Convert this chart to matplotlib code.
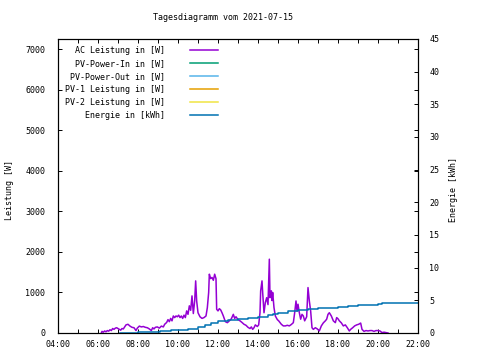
import matplotlib
matplotlib.use("Agg")
import matplotlib.pyplot as plt
import numpy as np

plt.rcParams['font.family'] = ['DejaVu Sans Mono']
plt.rcParams['font.size'] = 6

# AC Leistung [W]
ac_times = ["06:10", "06:12", "06:16", "06:20", "06:24", "06:28", "06:32", "06:36", "06:40", "06:44",
            "06:48", "06:52", "06:56", "07:00", "07:04", "07:08", "07:12", "07:16", "07:20", "07:24",
            "07:30", "07:36", "07:42", "07:48", "07:54", "07:58", "08:04", "08:10", "08:16", "08:22",
            "08:28", "08:34", "08:40", "08:44", "08:48", "08:52", "08:58", "09:04", "09:10", "09:16",
            "09:20", "09:26", "09:30", "09:34", "09:38", "09:42", "09:46", "09:50", "09:54", "09:58",
            "10:02", "10:06", "10:10", "10:14", "10:18", "10:22", "10:26", "10:30", "10:34", "10:38",
            "10:42", "10:46", "10:50", "10:53", "10:56", "11:00", "11:06", "11:12", "11:18", "11:24",
            "11:28", "11:32", "11:34", "11:38", "11:42", "11:46", "11:50", "11:54", "11:56", "12:00",
            "12:04", "12:08", "12:12", "12:16", "12:22", "12:28", "12:34", "12:40", "12:46", "12:50",
            "12:54", "13:00", "13:06", "13:12", "13:18", "13:24", "13:30", "13:36", "13:40", "13:44",
            "13:48", "13:52", "13:58", "14:02", "14:06", "14:08", "14:12", "14:14", "14:18", "14:22",
            "14:26", "14:30", "14:34", "14:36", "14:40", "14:42", "14:44", "14:48", "14:52", "14:58",
            "15:02", "15:10", "15:16", "15:22", "15:28", "15:34", "15:40", "15:46", "15:50", "15:54",
            "15:57", "16:00", "16:04", "16:08", "16:12", "16:16", "16:20", "16:26", "16:30", "16:34",
            "16:38", "16:42", "16:46", "16:52", "16:58", "17:04", "17:10", "17:16", "17:22", "17:26",
            "17:30", "17:34", "17:40", "17:46", "17:52", "17:56", "18:00", "18:04", "18:10", "18:16",
            "18:22", "18:28", "18:34", "18:38", "18:44", "18:50", "18:56", "19:02", "19:08", "19:12",
            "19:18", "19:24", "19:30", "19:36", "19:42", "19:48", "19:54", "20:00", "20:06", "20:12",
            "20:18", "20:24", "20:30"]
ac_power = [0, 40, 20, 50, 30, 60, 45, 80, 60, 110,
            90, 120, 130, 110, 90, 70, 110, 100, 150, 200,
            215, 170, 140, 130, 60, 120, 170, 150, 160, 140,
            130, 100, 60, 130, 100, 140, 150, 120, 170, 150,
            215, 260, 330, 280, 360, 300, 420, 380, 420, 400,
            440, 380, 420, 360, 440, 380, 545, 460, 670, 560,
            915, 480, 790, 1285, 790, 500, 400, 360, 380, 420,
            625, 1000, 1450, 1340, 1370, 1300, 1450, 1340, 585, 545,
            600, 570, 500, 420, 280, 255, 300, 350, 460, 360,
            400, 330, 300, 260, 215, 190, 140, 110, 150, 90,
            130, 200, 160, 200, 500, 1040, 1285, 1000, 500, 750,
            870, 700, 1820, 870, 1040, 800, 1000, 625, 420, 330,
            300, 215, 175, 175, 190, 175, 210, 255, 500, 790,
            540, 710, 500, 340, 460, 420, 300, 400, 1120, 790,
            540, 130, 90, 130, 100, 50, 175, 250, 300, 340,
            460, 500, 420, 300, 255, 380, 350, 300, 250, 175,
            200, 130, 50, 90, 130, 175, 200, 215, 245, 90,
            40, 60, 50, 60, 60, 40, 60, 60, 50, 10,
            20, 10, 0]

# Energie [kWh]
en_times = ["07:06", "08:00", "09:06", "09:40", "10:00", "10:30", "11:00", "11:20", "11:40", "12:00",
            "12:30", "13:00", "13:30", "14:00", "14:30", "14:45", "15:00", "15:30", "16:00", "16:30",
            "17:00", "18:00", "18:30", "19:00", "20:00", "20:12", "22:00"]
energy = [0, 0.2, 0.3, 0.45, 0.5, 0.65, 0.9, 1.2, 1.5, 1.8,
          2.0, 2.1, 2.3, 2.4, 2.75, 2.9, 3.1, 3.35, 3.45, 3.75,
          3.9, 4.05, 4.2, 4.35, 4.45, 4.55, 4.6]

# PV series carry no data in this day
pv_in = []
pv_out = []
pv1 = []
pv2 = []

hour_ticks = list(range(4, 23))
hour_labels = ["%02d:00" % h if h % 2 == 0 else "" for h in hour_ticks]


def to_hours(ts):
    return [int(t[:2]) + int(t[3:]) / 60 for t in ts]


fig = plt.figure(figsize=(4.8, 3.6), dpi=100)
ax = fig.add_axes([58 / 480, 27 / 360, 360 / 480, 294 / 360])
ax2 = ax.twinx()

l1, = ax.plot(to_hours(ac_times), ac_power, color="#9400d3", lw=1.1, label="AC Leistung in [W]")
l2, = ax.plot([], pv_in, color="#009e73", lw=1.1, label="PV-Power-In in [W]")
l3, = ax.plot([], pv_out, color="#56b4e9", lw=1.1, label="PV-Power-Out in [W]")
l4, = ax.plot([], pv1, color="#e69f00", lw=1.1, label="PV-1 Leistung in [W]")
l5, = ax.plot([], pv2, color="#f0e442", lw=1.1, label="PV-2 Leistung in [W]")
l6, = ax2.plot(to_hours(en_times), energy, color="#0072b2", lw=1.1, drawstyle="steps-post",
               label="Energie in [kWh]")

ax.set_xlim(4, 22)
ax.set_ylim(0, 7250)
ax2.set_ylim(0, 45)
ax.set_xticks(hour_ticks)
ax.set_xticklabels(hour_labels)
ax.set_yticks(range(0, 8000, 1000))
ax2.set_yticks(range(0, 50, 5))

ax.tick_params(axis='x', direction='in', length=3, width=0.7, top=True, pad=5)
ax.tick_params(axis='y', direction='in', length=3, width=0.7, right=True, labelright=False, pad=9)
ax2.tick_params(axis='y', direction='in', length=3, width=0.7, pad=8)
for a in (ax, ax2):
    for s in a.spines.values():
        s.set_linewidth(0.8)

fig.text(223 / 480, 1 - 17 / 360, "Tagesdiagramm vom 2021-07-15", ha="center", va="center")
fig.text(10 / 480, 1 - 190 / 360, "Leistung [W]", rotation=90, ha="center", va="center")
fig.text(453 / 480, 1 - 190 / 360, "Energie [kWh]", rotation=90, ha="center", va="center")

ax2.legend(handles=[l1, l2, l3, l4, l5, l6], loc="upper right", bbox_to_anchor=(160 / 360, 0.977),
           markerfirst=False, frameon=False, borderpad=0, borderaxespad=0,
           handlelength=3.4, handletextpad=3.0, labelspacing=0.48)

fig.savefig("out.png", dpi=100)
